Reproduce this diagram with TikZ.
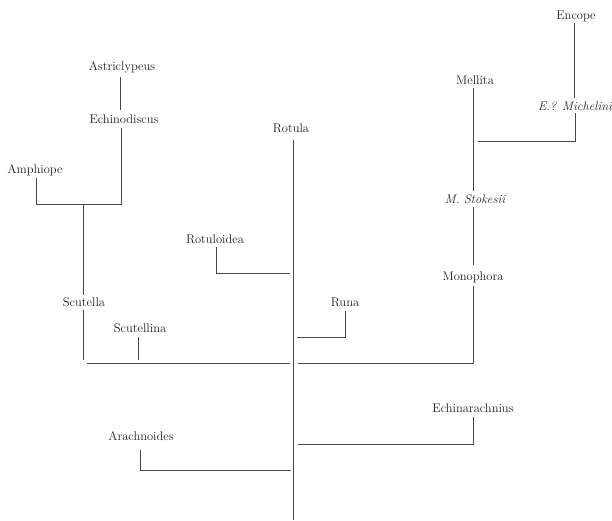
\documentclass[tikz,border=0pt]{standalone}
\usepackage{fontspec}
\begin{document}
\begin{tikzpicture}[x=1pt,y=-1pt,
  lbl/.style={inner sep=0pt,text=black!88,font=\fontsize{12.5}{14}\selectfont\addfontfeatures{LetterSpace=5,FakeBold=0.6}},
  ilbl/.style={lbl,font=\fontsize{12.5}{14}\selectfont\itshape\addfontfeatures{LetterSpace=5}},
  br/.style={draw=black!72,line width=0.75pt}]
\useasboundingbox (0,0) rectangle (612,520);
% labels
\node[lbl] (ast) at (122,67) {Astriclypeus};
\node[lbl] (echd) at (124,119) {Echinodiscus};
\node[lbl] (amph) at (35,170) {Amphiope};
\node[lbl] (scut) at (84,302) {Scutella};
\node[lbl] (scutl) at (140,328) {Scutellina};
\node[lbl] (rot) at (291,128) {Rotula};
\node[lbl] (rotd) at (215,239) {Rotuloidea};
\node[lbl] (runa) at (345,302) {Runa};
\node[lbl] (mell) at (475,80) {Mellita};
\node[ilbl] (stok) at (475,199) {M. Stokesii};
\node[lbl] (mono) at (473,277) {Monophora};
\node[lbl] (enc) at (576,16) {Encope};
\node[ilbl] (mich) at (575,106) {E.? Michelini};
\node[lbl] (echr) at (473,408) {Echinarachnius};
\node[lbl] (arach) at (141,436) {Arachnoides};
% coordinates
\coordinate (a1) at (120,77);
\coordinate (a2) at (120,110);
\coordinate (e1) at (121,128);
\coordinate (e2) at (121,204);
\coordinate (am1) at (36,178);
\coordinate (am2) at (36,204);
\coordinate (s0) at (83,204);
\coordinate (s1) at (83,295);
\coordinate (s2) at (83,310);
\coordinate (s3) at (83,360);
\coordinate (sl1) at (138,337);
\coordinate (sl2) at (138,360);
\coordinate (h1) at (87,363);
\coordinate (h2) at (290,363);
\coordinate (h3) at (298,363);
\coordinate (h4) at (473,363);
\coordinate (r1) at (293,140);
\coordinate (r2) at (293,520);
\coordinate (rd1) at (216,247);
\coordinate (rd2) at (216,273);
\coordinate (rd3) at (290,273);
\coordinate (ru1) at (297,337);
\coordinate (ru2) at (345,337);
\coordinate (ru3) at (345,311);
\coordinate (m1) at (473,88);
\coordinate (m2) at (473,191);
\coordinate (m3) at (473,207);
\coordinate (m4) at (473,265);
\coordinate (m5) at (473,286);
\coordinate (en1) at (574,23);
\coordinate (en2) at (574,98);
\coordinate (mi1) at (575,113);
\coordinate (mi2) at (575,141);
\coordinate (mi3) at (478,141);
\coordinate (ec1) at (298,444);
\coordinate (ec2) at (473,444);
\coordinate (ec3) at (473,417);
\coordinate (ar1) at (140,450);
\coordinate (ar2) at (140,470);
\coordinate (ar3) at (291,470);
% branches
\draw[br] (a1) -- (a2);
\draw[br] (am1) -- (am2) -- (e2) -- (e1);
\draw[br] (s0) -- (s1);
\draw[br] (s2) -- (s3);
\draw[br] (sl1) -- (sl2);
\draw[br] (h1) -- (h2);
\draw[br] (h3) -- (h4) -- (m5);
\draw[br] (r1) -- (r2);
\draw[br] (rd1) -- (rd2) -- (rd3);
\draw[br] (ru1) -- (ru2) -- (ru3);
\draw[br] (m1) -- (m2);
\draw[br] (m3) -- (m4);
\draw[br] (en1) -- (en2);
\draw[br] (mi1) -- (mi2) -- (mi3);
\draw[br] (ec1) -- (ec2) -- (ec3);
\draw[br] (ar1) -- (ar2) -- (ar3);
\end{tikzpicture}
\end{document}
